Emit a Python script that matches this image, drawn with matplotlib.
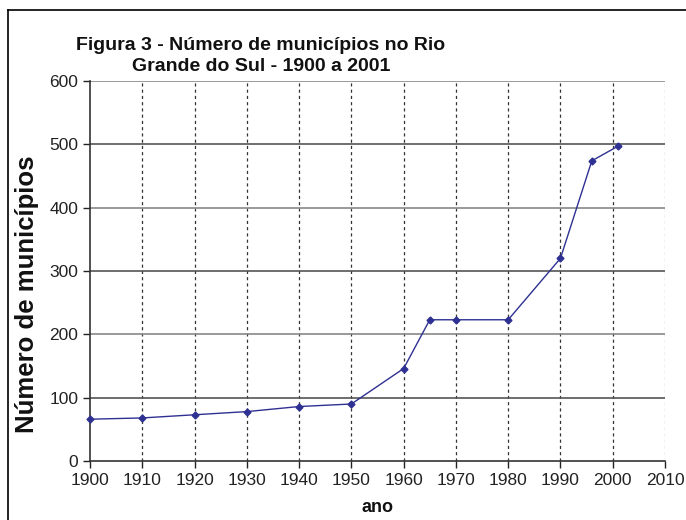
import matplotlib as mpl
mpl.use('Agg')
import matplotlib.pyplot as plt

# dados
anos = [1900, 1910, 1920, 1930, 1940, 1950, 1960, 1965, 1970, 1980, 1990, 1996, 2001]
municipios = [66, 68, 73, 78, 86, 90, 146, 223, 223, 223, 320, 474, 497]
xticks = list(range(1900, 2011, 10))
yticks = list(range(0, 601, 100))

plt.rcParams['font.family'] = ['Liberation Sans', 'DejaVu Sans']

fig = plt.figure(figsize=(6.86, 5.2), dpi=100)
ax = fig.add_axes([90 / 686, 1 - 461 / 520, 575 / 686, 380 / 520])

ax.plot(anos, municipios, color='#2e3192', linewidth=1.0, marker='D', markersize=3.5,
        zorder=3, clip_on=False)

ax.set_xlim(1900, 2010)
ax.set_ylim(0, 600)
ax.set_xticks(xticks)
ax.set_yticks(yticks)
ax.tick_params(axis='both', labelsize=12.5, colors='#222222', direction='out', length=5, width=1)

for x in xticks[1:]:
    ax.axvline(x, color='#333333' if x < 2010 else '#999999', linestyle=(0, (2.5, 2.5)),
               linewidth=0.9, zorder=1)
for y in yticks[1:]:
    ax.axhline(y, color='#555555' if y % 200 else '#888888', linewidth=1.2, zorder=1)

for s in ['top', 'right']:
    ax.spines[s].set_visible(False)
for s in ['left', 'bottom']:
    ax.spines[s].set_color('#333333')
    ax.spines[s].set_linewidth(1.2)

fig.text(261 / 686, 1 - 56 / 520, 'Figura 3 - Número de municípios no Rio\nGrande do Sul - 1900 a 2001',
         ha='center', va='center', multialignment='center', fontsize=14, fontweight='bold',
         linespacing=1.3, color='#111111')
fig.text(27 / 686, 1 - 294 / 520, 'Número de municípios', rotation=90, ha='center', va='center',
         fontsize=18.5, fontweight='bold', color='#111111')
fig.text(377 / 686, 1 - 508 / 520, 'ano', ha='center', va='center', fontsize=13,
         fontweight='bold', color='#111111')

# moldura externa (só topo e esquerda)
fig.add_artist(plt.Line2D([8 / 686, 8 / 686], [0, 1 - 10 / 520], color='black', linewidth=1.2,
                          transform=fig.transFigure))
fig.add_artist(plt.Line2D([8 / 686, 1], [1 - 10 / 520, 1 - 10 / 520], color='black', linewidth=1.2,
                          transform=fig.transFigure))

fig.savefig('out.png', dpi=100)
